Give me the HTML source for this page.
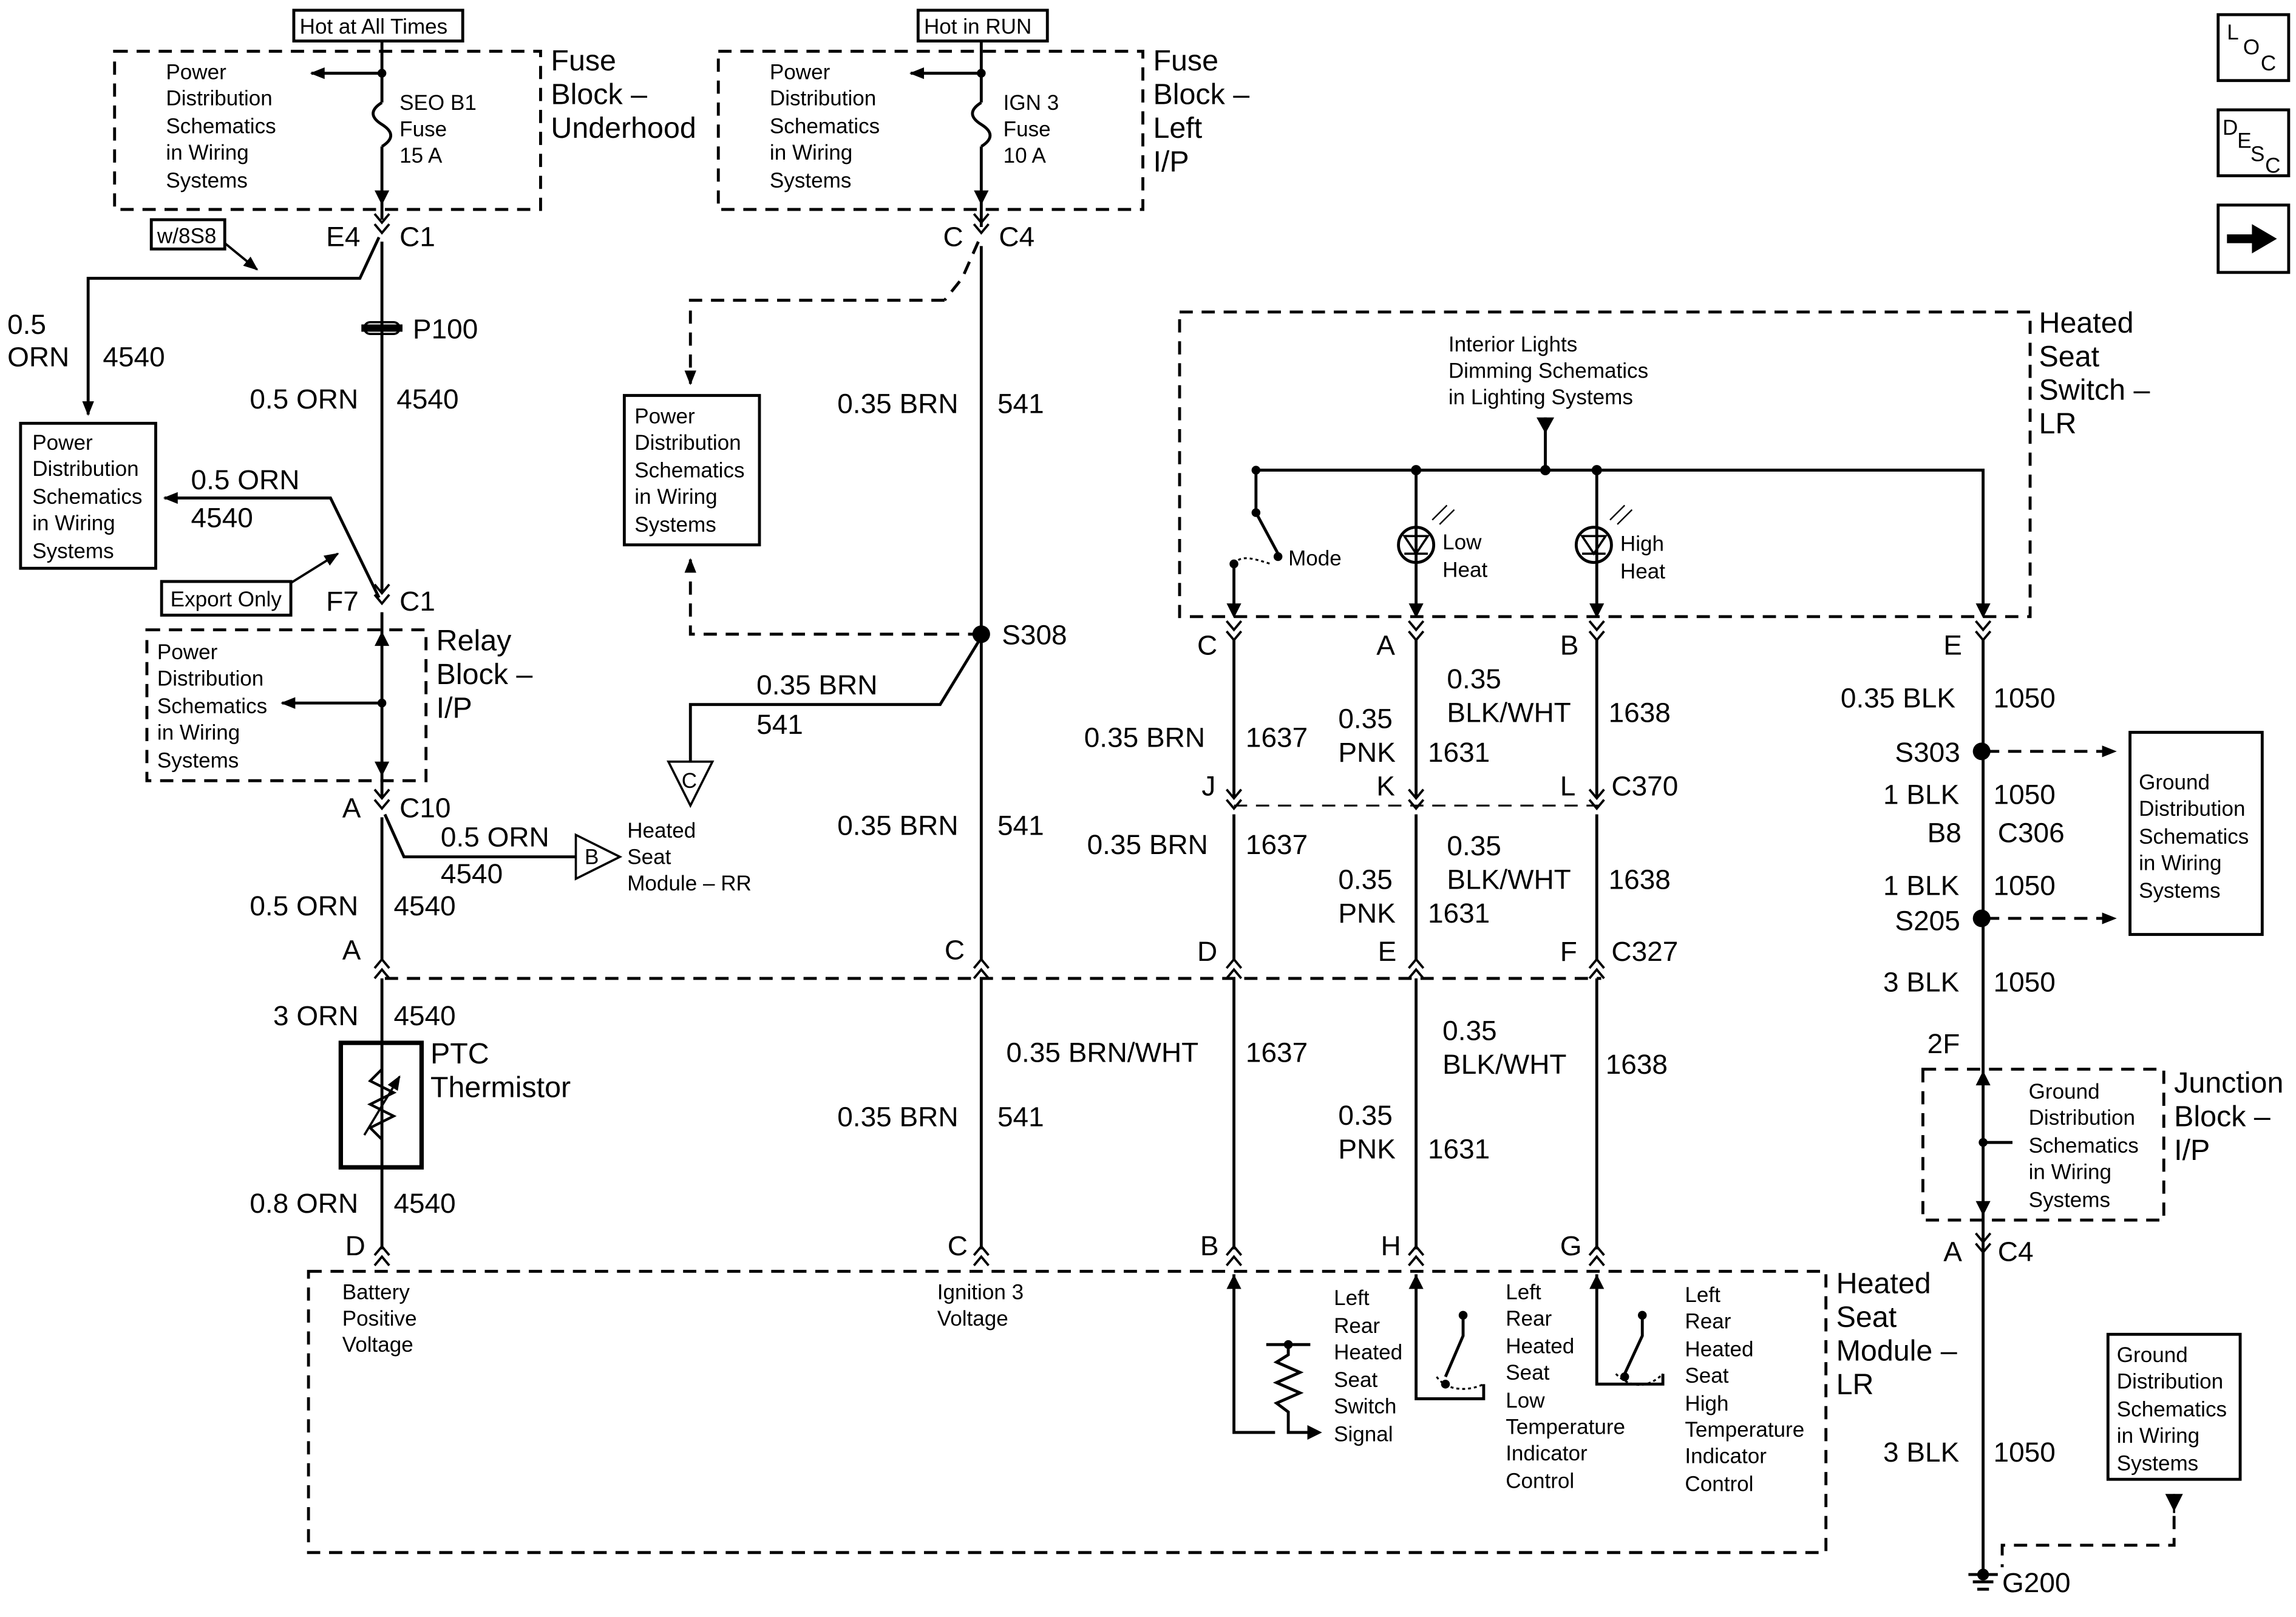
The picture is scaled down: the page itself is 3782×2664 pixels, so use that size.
<!DOCTYPE html>
<html><head><meta charset="utf-8"><style>
html,body{margin:0;padding:0;background:#fff;}
svg{display:block;}
text{font-family:"Liberation Sans",Arial,sans-serif;fill:#000;}
.s{font-size:14.5px;}
.m{font-size:19px;}
.l{font-size:20px;}
</style></head><body>
<svg width="3782" height="2664" viewBox="0 0 1563 1104" preserveAspectRatio="none" xmlns="http://www.w3.org/2000/svg">
<defs>
<g id="cv"><path d="M-5,-6 L0,0 L5,-6 M-5,1 L0,7 L5,1" fill="none" stroke="#000" stroke-width="1.6"/></g>
<g id="cu"><path d="M-5,6 L0,0 L5,6 M-5,-1 L0,-7 L5,-1" fill="none" stroke="#000" stroke-width="1.6"/></g>
<marker id="ah" markerWidth="10" markerHeight="10" refX="9" refY="5" orient="auto" markerUnits="userSpaceOnUse"><path d="M0,1 L10,5 L0,9 Z" fill="#000"/></marker>
</defs>
<rect width="1563" height="1104" fill="#fff"/>
<g fill="none" stroke="#000" stroke-width="2">
<!-- dashed boxes -->
<g stroke-dasharray="9,6">
<rect x="78" y="35" width="290" height="108"/>
<rect x="489" y="35" width="289" height="108"/>
<rect x="100" y="430" width="190" height="103"/>
<rect x="803" y="213" width="579" height="208"/>
<rect x="210" y="868" width="1033" height="192"/>
<rect x="1309" y="730" width="164" height="103"/>
<path d="M643,205 L470,205 L470,262" marker-end="url(#ah)"/>
<path d="M668,433 L470,433 L470,382" marker-end="url(#ah)"/>
<path d="M262,668 L1090,668"/>
<path d="M840,550 L1090,550" stroke-width="1.3"/>
<path d="M1352,513 L1440,513" marker-end="url(#ah)"/>
<path d="M1352,627 L1440,627" marker-end="url(#ah)"/>
<path d="M1480,1035 L1480,1055 L1363,1055 L1363,1070"/>
</g>
<!-- solid boxes -->
<rect x="200" y="7" width="115" height="21"/>
<rect x="625" y="7" width="88" height="21"/>
<rect x="14" y="289" width="92" height="99"/>
<rect x="425" y="270" width="92" height="102"/>
<rect x="103" y="150" width="50" height="20"/>
<rect x="110" y="397" width="88" height="23"/>
<rect x="1450" y="500" width="90" height="138"/>
<rect x="1435" y="911" width="90" height="99"/>
<rect x="232" y="712" width="55" height="85" stroke-width="3"/>
<rect x="1510" y="10" width="48" height="45"/>
<rect x="1510" y="75" width="48" height="45"/>
<rect x="1510" y="140" width="48" height="46"/>
<!-- left column wire -->
<path d="M260,28 L260,70 M260,100 L260,150 M260,165 L260,405 M260,418 L260,545 M260,558 L260,655 M260,668 L260,853"/>
<path d="M260,70 C252,75 252,80 260,85 C268,90 268,95 260,100"/>
<path d="M260,50 L212,50" marker-end="url(#ah)"/>
<path d="M246,224 L274,224" stroke-width="5"/>
<rect x="248" y="220" width="24" height="8" rx="4" stroke-width="1.5"/>
<path d="M258,162 L245,190 L60,190 L60,283" marker-end="url(#ah)"/>
<path d="M153,166 L175,184" marker-end="url(#ah)" stroke-width="1.6"/>
<path d="M258,408 L225,340 L112,340" marker-end="url(#ah)"/>
<path d="M198,398 L230,378" marker-end="url(#ah)" stroke-width="1.6"/>
<path d="M260,480 L192,480" marker-end="url(#ah)"/>
<path d="M262,556 L275,585 L392,585"/>
<path d="M392,570 L422,585 L392,600 Z" stroke-width="1.5"/>
<path d="M248,775 L272,735" stroke-width="1.5" marker-end="url(#ah)"/>
<path d="M260,730 L252,738 L268,746 L252,754 L268,762 L252,770 L260,778" stroke-width="1.8"/>
<!-- middle column -->
<path d="M668,28 L668,70 M668,100 L668,155 M668,168 L668,655 M668,668 L668,853"/>
<path d="M668,70 C660,75 660,80 668,85 C676,90 676,95 668,100"/>
<path d="M668,50 L620,50" marker-end="url(#ah)"/>
<path d="M666,165 L655,190 L643,205" stroke-dasharray="9,6"/>
<path d="M668,435 L640,481 L470,481 L470,520"/>
<path d="M455,520 L485,520 L470,550 Z" stroke-width="1.5"/>
<!-- switch area -->
<path d="M855,321 L1350,321 L1350,420"/>
<path d="M1052,285 L1052,321"/>
<path d="M855,321 L855,350 L870,378"/>
<path d="M840,385 L840,420"/>
<path d="M840,385 C845,378 855,382 865,385" stroke-dasharray="2,2" stroke-width="1.3"/>
<path d="M964,321 L964,420 M1087,321 L1087,420"/>
<circle cx="964" cy="372" r="12"/>
<circle cx="1085" cy="372" r="12"/>
<path d="M956,366 L972,366 L964,378 Z M956,378 L972,378" stroke-width="1.5"/>
<path d="M1077,366 L1093,366 L1085,378 Z M1077,378 L1093,378" stroke-width="1.5"/>
<path d="M975,355 L985,345 M980,358 L990,348 M1096,355 L1106,345 M1101,358 L1111,348" stroke-width="1"/>
<path d="M840,436 L840,545 M840,556 L840,655 M840,668 L840,853"/>
<path d="M964,436 L964,545 M964,556 L964,655 M964,668 L964,853"/>
<path d="M1087,436 L1087,545 M1087,556 L1087,655 M1087,668 L1087,853"/>
<!-- module internals -->
<path d="M840,870 L840,978 L868,978 M877,918 L877,925 L869,930 L885,937 L869,944 L885,951 L869,958 L877,964 L877,978 L898,978"/>
<path d="M862,918 L892,918"/>
<path d="M964,870 L964,955 L990,955 M996,898 L996,912 L984,940 M990,955 L1010,955 L1010,945"/>
<path d="M978,940 C985,950 1000,950 1010,945" stroke-dasharray="2,2" stroke-width="1.3"/>
<path d="M1087,870 L1087,945 L1100,945 M1118,898 L1118,912 L1106,938 M1100,945 L1132,945 L1132,938"/>
<path d="M1100,938 C1110,948 1122,948 1132,938" stroke-dasharray="2,2" stroke-width="1.3"/>
<path d="M1350,436 L1350,1075"/>
<path d="M1480,1033 L1480,1020" stroke-width="1.5"/>
<path d="M1370,780 L1352,780"/>
<path d="M1340,1075 L1360,1075 M1343,1080 L1357,1080 M1346,1085 L1354,1085"/>
<!-- LOC/DESC arrow -->
<path d="M1516,163 L1536,163" stroke-width="6"/>
</g>
<g fill="#000">
<path d="M1533,153 L1550,163 L1533,173 Z"/>
<circle cx="668" cy="433" r="6"/>
<circle cx="1349" cy="513" r="6"/>
<circle cx="1349" cy="627" r="6"/>
<circle cx="260" cy="50" r="3"/><circle cx="668" cy="50" r="3"/>
<circle cx="260" cy="480" r="3"/><circle cx="964" cy="321" r="3.5"/>
<circle cx="1052" cy="321" r="3.5"/><circle cx="1087" cy="321" r="3.5"/>
<circle cx="855" cy="321" r="3"/><circle cx="855" cy="350" r="3"/><circle cx="870" cy="380" r="3"/>
<circle cx="840" cy="385" r="3"/><circle cx="1350" cy="780" r="3"/>
<circle cx="877" cy="918" r="3"/><circle cx="996" cy="898" r="3"/><circle cx="984" cy="945" r="3"/>
<circle cx="1118" cy="898" r="3"/><circle cx="1106" cy="940" r="3"/>
<circle cx="1350" cy="1075" r="4"/>
<path d="M1046,285 L1058,285 L1052,296 Z"/>
<path d="M1474,1020 L1486,1020 L1480,1032 Z"/>
<path d="M890,973 L900,978 L890,983 Z"/>
<path d="M835,880 L840,870 L845,880 Z"/><path d="M959,880 L964,870 L969,880 Z"/><path d="M1082,880 L1087,870 L1092,880 Z"/>
<path d="M835,412 L840,422 L845,412 Z"/><path d="M959,412 L964,422 L969,412 Z"/><path d="M1082,412 L1087,422 L1092,412 Z"/><path d="M1345,412 L1350,422 L1355,412 Z"/>
<path d="M255,130 L260,140 L265,130 Z"/><path d="M663,130 L668,140 L673,130 Z"/>
<path d="M255,520 L260,530 L265,520 Z"/><path d="M255,441 L260,431 L265,441 Z"/>
<path d="M1345,820 L1350,830 L1355,820 Z"/><path d="M1345,741 L1350,731 L1355,741 Z"/>
</g>
<!-- connectors -->
<use href="#cv" x="260" y="152"/><use href="#cv" x="668" y="152"/>
<use href="#cv" x="260" y="405"/><use href="#cv" x="260" y="545"/>
<use href="#cu" x="260" y="662"/><use href="#cu" x="668" y="662"/><use href="#cu" x="840" y="662"/><use href="#cu" x="964" y="662"/><use href="#cu" x="1087" y="662"/>
<use href="#cu" x="260" y="858"/><use href="#cu" x="668" y="858"/><use href="#cu" x="840" y="858"/><use href="#cu" x="964" y="858"/><use href="#cu" x="1087" y="858"/>
<use href="#cv" x="840" y="430"/><use href="#cv" x="964" y="430"/><use href="#cv" x="1087" y="430"/><use href="#cv" x="1350" y="430"/>
<use href="#cv" x="840" y="545"/><use href="#cv" x="964" y="545"/><use href="#cv" x="1087" y="545"/>
<use href="#cv" x="1350" y="848"/>
<!-- text -->
<text class="s" x="204" y="23">Hot at All Times</text>
<text class="s" x="629" y="23">Hot in RUN</text>
<text class="s" x="113" y="54">Power</text><text class="s" x="113" y="72">Distribution</text><text class="s" x="113" y="91">Schematics</text><text class="s" x="113" y="109">in Wiring</text><text class="s" x="113" y="128">Systems</text>
<text class="s" x="524" y="54">Power</text><text class="s" x="524" y="72">Distribution</text><text class="s" x="524" y="91">Schematics</text><text class="s" x="524" y="109">in Wiring</text><text class="s" x="524" y="128">Systems</text>
<text class="s" x="272" y="75">SEO B1</text><text class="s" x="272" y="93">Fuse</text><text class="s" x="272" y="111">15 A</text>
<text class="s" x="683" y="75">IGN 3</text><text class="s" x="683" y="93">Fuse</text><text class="s" x="683" y="111">10 A</text>
<text class="l" x="375" y="48">Fuse</text><text class="l" x="375" y="71">Block –</text><text class="l" x="375" y="94">Underhood</text>
<text class="l" x="785" y="48">Fuse</text><text class="l" x="785" y="71">Block –</text><text class="l" x="785" y="94">Left</text><text class="l" x="785" y="117">I/P</text>
<text class="s" x="107" y="166">w/8S8</text>
<text class="m" x="222" y="168">E4</text><text class="m" x="272" y="168">C1</text>
<text class="m" x="642" y="168">C</text><text class="m" x="680" y="168">C4</text>
<text class="m" x="5" y="228">0.5</text><text class="m" x="5" y="250">ORN</text><text class="m" x="70" y="250">4540</text>
<text class="m" x="281" y="231">P100</text>
<text class="m" x="170" y="279">0.5 ORN</text><text class="m" x="270" y="279">4540</text>
<text class="s" x="22" y="307">Power</text><text class="s" x="22" y="325">Distribution</text><text class="s" x="22" y="344">Schematics</text><text class="s" x="22" y="362">in Wiring</text><text class="s" x="22" y="381">Systems</text>
<text class="s" x="432" y="289">Power</text><text class="s" x="432" y="307">Distribution</text><text class="s" x="432" y="326">Schematics</text><text class="s" x="432" y="344">in Wiring</text><text class="s" x="432" y="363">Systems</text>
<text class="m" x="130" y="334">0.5 ORN</text><text class="m" x="130" y="360">4540</text>
<text class="s" x="116" y="414">Export Only</text>
<text class="m" x="222" y="417">F7</text><text class="m" x="272" y="417">C1</text>
<text class="s" x="107" y="450">Power</text><text class="s" x="107" y="468">Distribution</text><text class="s" x="107" y="487">Schematics</text><text class="s" x="107" y="505">in Wiring</text><text class="s" x="107" y="524">Systems</text>
<text class="l" x="297" y="444">Relay</text><text class="l" x="297" y="467">Block –</text><text class="l" x="297" y="490">I/P</text>
<text class="m" x="233" y="558">A</text><text class="m" x="272" y="558">C10</text>
<text class="m" x="300" y="578">0.5 ORN</text><text class="m" x="300" y="603">4540</text>
<text class="s" x="398" y="590">B</text>
<text class="s" x="464" y="538">C</text>
<text class="s" x="427" y="572">Heated</text><text class="s" x="427" y="590">Seat</text><text class="s" x="427" y="608">Module – RR</text>
<text class="m" x="170" y="625">0.5 ORN</text><text class="m" x="268" y="625">4540</text>
<text class="m" x="233" y="655">A</text>
<text class="m" x="186" y="700">3 ORN</text><text class="m" x="268" y="700">4540</text>
<text class="l" x="293" y="726">PTC</text><text class="l" x="293" y="749">Thermistor</text>
<text class="m" x="170" y="828">0.8 ORN</text><text class="m" x="268" y="828">4540</text>
<text class="m" x="235" y="857">D</text>
<text class="s" x="233" y="887">Battery</text><text class="s" x="233" y="905">Positive</text><text class="s" x="233" y="923">Voltage</text>
<text class="m" x="570" y="282">0.35 BRN</text><text class="m" x="679" y="282">541</text>
<text class="m" x="682" y="440">S308</text>
<text class="m" x="515" y="474">0.35 BRN</text><text class="m" x="515" y="501">541</text>
<text class="m" x="570" y="570">0.35 BRN</text><text class="m" x="679" y="570">541</text>
<text class="m" x="643" y="655">C</text>
<text class="m" x="570" y="769">0.35 BRN</text><text class="m" x="679" y="769">541</text>
<text class="m" x="645" y="857">C</text>
<text class="s" x="638" y="887">Ignition 3</text><text class="s" x="638" y="905">Voltage</text>
<text class="s" x="986" y="240">Interior Lights</text><text class="s" x="986" y="258">Dimming Schematics</text><text class="s" x="986" y="276">in Lighting Systems</text>
<text class="l" x="1388" y="227">Heated</text><text class="l" x="1388" y="250">Seat</text><text class="l" x="1388" y="273">Switch –</text><text class="l" x="1388" y="296">LR</text>
<text class="s" x="877" y="386">Mode</text>
<text class="s" x="982" y="375">Low</text><text class="s" x="982" y="394">Heat</text>
<text class="s" x="1103" y="376">High</text><text class="s" x="1103" y="395">Heat</text>
<text class="m" x="815" y="447">C</text><text class="m" x="937" y="447">A</text><text class="m" x="1062" y="447">B</text><text class="m" x="1323" y="447">E</text>
<text class="m" x="985" y="470">0.35</text><text class="m" x="985" y="493">BLK/WHT</text><text class="m" x="1095" y="493">1638</text>
<text class="m" x="911" y="497">0.35</text><text class="m" x="911" y="520">PNK</text><text class="m" x="972" y="520">1631</text>
<text class="m" x="738" y="510">0.35 BRN</text><text class="m" x="848" y="510">1637</text>
<text class="m" x="818" y="543">J</text><text class="m" x="937" y="543">K</text><text class="m" x="1062" y="543">L</text><text class="m" x="1097" y="543">C370</text>
<text class="m" x="740" y="583">0.35 BRN</text><text class="m" x="848" y="583">1637</text>
<text class="m" x="985" y="584">0.35</text><text class="m" x="985" y="607">BLK/WHT</text><text class="m" x="1095" y="607">1638</text>
<text class="m" x="911" y="607">0.35</text><text class="m" x="911" y="630">PNK</text><text class="m" x="972" y="630">1631</text>
<text class="m" x="815" y="656">D</text><text class="m" x="938" y="656">E</text><text class="m" x="1062" y="656">F</text><text class="m" x="1097" y="656">C327</text>
<text class="m" x="982" y="710">0.35</text><text class="m" x="982" y="733">BLK/WHT</text><text class="m" x="1093" y="733">1638</text>
<text class="m" x="685" y="725">0.35 BRN/WHT</text><text class="m" x="848" y="725">1637</text>
<text class="m" x="911" y="768">0.35</text><text class="m" x="911" y="791">PNK</text><text class="m" x="972" y="791">1631</text>
<text class="m" x="817" y="857">B</text><text class="m" x="940" y="857">H</text><text class="m" x="1062" y="857">G</text>
<text class="s" x="908" y="891">Left</text><text class="s" x="908" y="910">Rear</text><text class="s" x="908" y="928">Heated</text><text class="s" x="908" y="947">Seat</text><text class="s" x="908" y="965">Switch</text><text class="s" x="908" y="984">Signal</text>
<text class="s" x="1025" y="887">Left</text><text class="s" x="1025" y="905">Rear</text><text class="s" x="1025" y="924">Heated</text><text class="s" x="1025" y="942">Seat</text><text class="s" x="1025" y="961">Low</text><text class="s" x="1025" y="979">Temperature</text><text class="s" x="1025" y="997">Indicator</text><text class="s" x="1025" y="1016">Control</text>
<text class="s" x="1147" y="889">Left</text><text class="s" x="1147" y="907">Rear</text><text class="s" x="1147" y="926">Heated</text><text class="s" x="1147" y="944">Seat</text><text class="s" x="1147" y="963">High</text><text class="s" x="1147" y="981">Temperature</text><text class="s" x="1147" y="999">Indicator</text><text class="s" x="1147" y="1018">Control</text>
<text class="l" x="1250" y="883">Heated</text><text class="l" x="1250" y="906">Seat</text><text class="l" x="1250" y="929">Module –</text><text class="l" x="1250" y="952">LR</text>
<text class="m" x="1253" y="483">0.35 BLK</text><text class="m" x="1357" y="483">1050</text>
<text class="m" x="1290" y="520">S303</text>
<text class="m" x="1282" y="549">1 BLK</text><text class="m" x="1357" y="549">1050</text>
<text class="m" x="1312" y="575">B8</text><text class="m" x="1360" y="575">C306</text>
<text class="m" x="1282" y="611">1 BLK</text><text class="m" x="1357" y="611">1050</text>
<text class="m" x="1290" y="635">S205</text>
<text class="m" x="1282" y="677">3 BLK</text><text class="m" x="1357" y="677">1050</text>
<text class="s" x="1456" y="539">Ground</text><text class="s" x="1456" y="557">Distribution</text><text class="s" x="1456" y="576">Schematics</text><text class="s" x="1456" y="594">in Wiring</text><text class="s" x="1456" y="613">Systems</text>
<text class="m" x="1312" y="719">2F</text>
<text class="s" x="1381" y="750">Ground</text><text class="s" x="1381" y="768">Distribution</text><text class="s" x="1381" y="787">Schematics</text><text class="s" x="1381" y="805">in Wiring</text><text class="s" x="1381" y="824">Systems</text>
<text class="l" x="1480" y="746">Junction</text><text class="l" x="1480" y="769">Block –</text><text class="l" x="1480" y="792">I/P</text>
<text class="m" x="1323" y="861">A</text><text class="m" x="1360" y="861">C4</text>
<text class="s" x="1441" y="930">Ground</text><text class="s" x="1441" y="948">Distribution</text><text class="s" x="1441" y="967">Schematics</text><text class="s" x="1441" y="985">in Wiring</text><text class="s" x="1441" y="1004">Systems</text>
<text class="m" x="1282" y="998">3 BLK</text><text class="m" x="1357" y="998">1050</text>
<text class="m" x="1363" y="1087">G200</text>
<text class="s" x="1516" y="27">L</text><text class="s" x="1527" y="37">O</text><text class="s" x="1539" y="48">C</text>
<text class="s" x="1513" y="92">D</text><text class="s" x="1523" y="101">E</text><text class="s" x="1532" y="110">S</text><text class="s" x="1542" y="118">C</text>
</svg>
</body></html>
